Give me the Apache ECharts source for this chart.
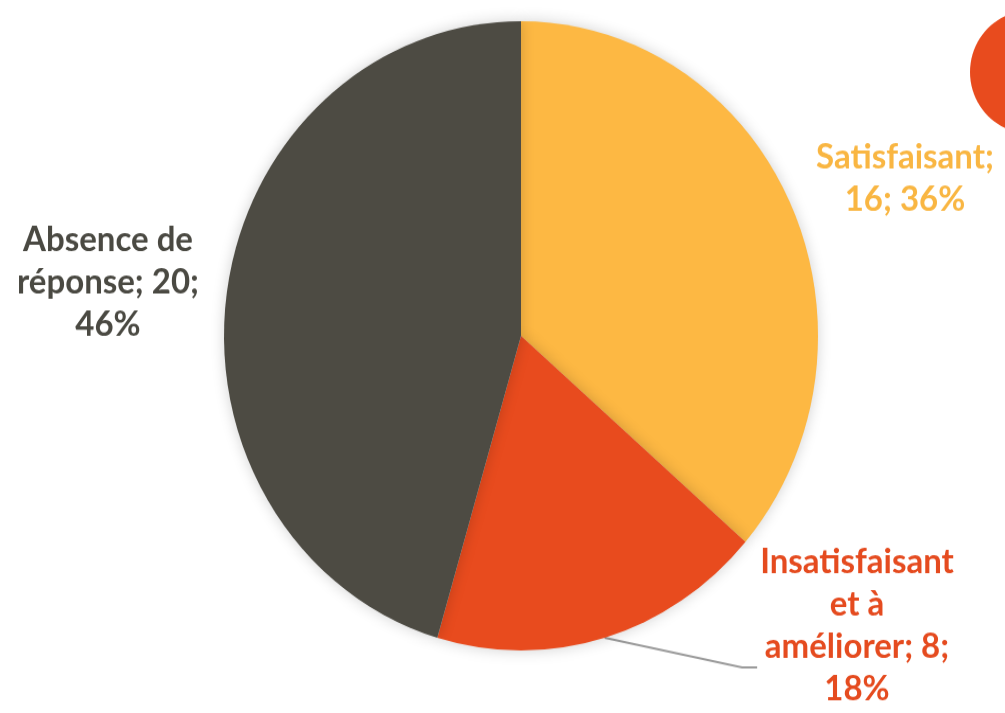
<!DOCTYPE html>
<html>
<head>
<meta charset="utf-8">
<script src="https://cdn.jsdelivr.net/npm/echarts@6/dist/echarts.min.js"></script>
<style>
  html, body { margin: 0; padding: 0; background: #ffffff; overflow: hidden; width: 1005px; height: 713px; }
  #chart { width: 1005px; height: 720px; transform: scaleY(1.0594); transform-origin: 0 0; }
</style>
</head>
<body>
<div id="chart"></div>
<script>
const categories = ['Satisfaisant', 'Insatisfaisant et à améliorer', 'Absence de réponse'];
const labelNames = ['Satisfaisant;', 'Insatisfaisant\net à\naméliorer;', 'Absence de\nréponse;'];
const values = [16, 8, 20];
const colors = ['#FDB843', '#E84B1E', '#4D4B43'];
const labelColors = ['#F9B642', '#E54B1F', '#4A4942'];

const labelPlaces = [
  { x: 905, y: 168 },
  { x: 857, y: 590 },
  { x: 108, y: 266 }
];

const chart = echarts.init(document.getElementById('chart'), null, { renderer: 'canvas' });

const data = categories.map((name, i) => ({
  name: name,
  value: values[i],
  itemStyle: { color: colors[i] },
  label: { color: labelColors[i] },
  labelLine: { show: i === 1 }
}));

chart.setOption({
  animation: false,
  backgroundColor: '#ffffff',
  graphic: [{
    type: 'ellipse',
    shape: { cx: 1030, cy: 68, rx: 60, ry: 58 },
    style: { fill: '#E84B1E' },
    z: -1
  }],
  series: [{
    type: 'pie',
    center: [521, 317],
    radius: [0, 297],
    startAngle: 90,
    clockwise: true,
    percentPrecision: 0,
    data: data,
    itemStyle: {
      borderWidth: 0,
      shadowBlur: 14,
      shadowColor: 'rgba(0,0,0,0.18)'
    },
    label: {
      show: true,
      position: 'outside',
      fontFamily: 'Lato, "Open Sans", sans-serif',
      fontWeight: 'bold',
      fontSize: 33,
      lineHeight: 40,
      align: 'center',
      overflow: 'none',
      lineOverflow: 'none',
      formatter: function (p) {
        const i = p.dataIndex;
        return labelNames[i] + (i === 0 ? '\n' : ' ') + p.value + ';' + (i === 0 ? ' ' : '\n') + p.percent + '%';
      }
    },
    labelLine: {
      lineStyle: { color: '#9a9a9a', width: 2 },
      length: 20,
      length2: 15
    },
    labelLayout: function (params) {
      const p = labelPlaces[params.dataIndex];
      const r = params.labelRect;
      const left = p.x - r.width / 2;
      const top = p.y - r.height / 2;
      const out = { x: p.x, y: p.y, align: 'center', verticalAlign: 'middle' };
      if (params.labelLinePoints) {
        const yEnd = top + r.height * 0.75;
        out.labelLinePoints = [params.labelLinePoints[0], [left - 18, yEnd], [left - 3, yEnd]];
      }
      return out;
    }
  }]
});
</script>
</body>
</html>
